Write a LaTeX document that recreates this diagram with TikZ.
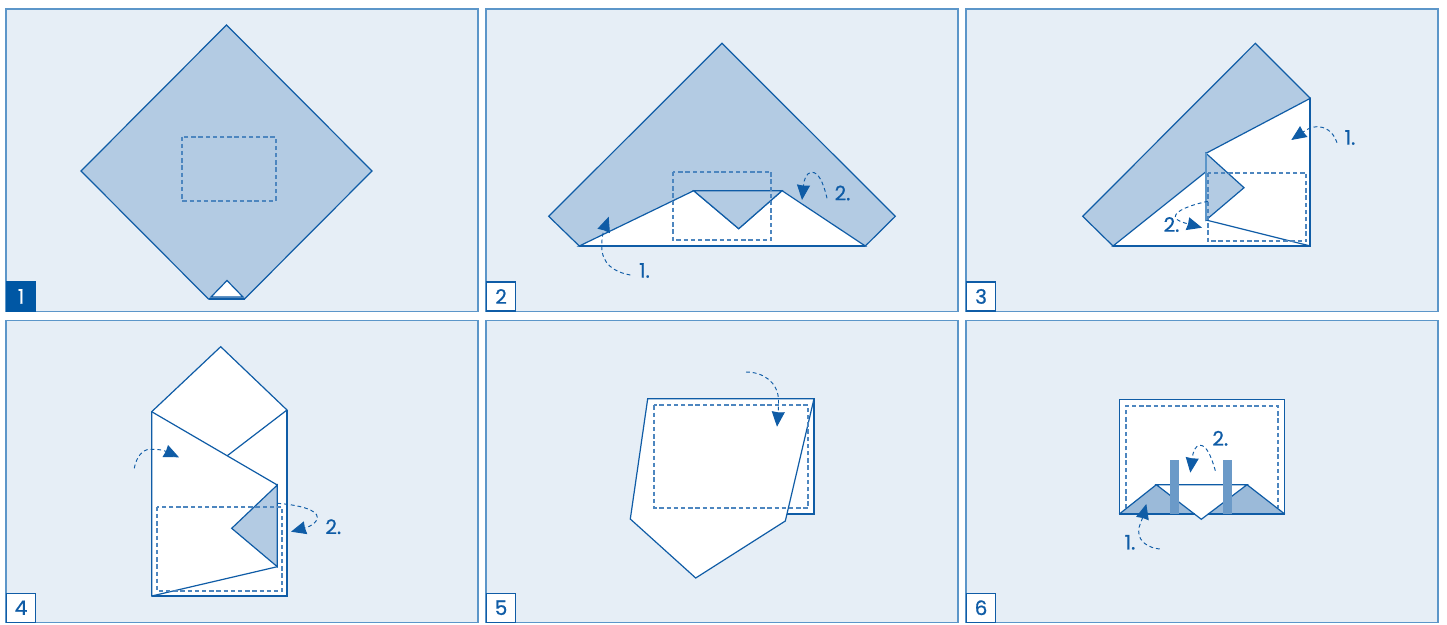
\documentclass[tikz,border=0pt]{standalone}
\usepackage{fontspec}
\setmainfont[FakeBold=0.7]{Poppins}
\usetikzlibrary{arrows.meta}
\definecolor{panelbg}{HTML}{E6EEF6}
\definecolor{ink}{HTML}{0F5CA6}
\definecolor{edge}{HTML}{5C96C9}
\definecolor{shade}{HTML}{B3CBE3}
\definecolor{shadetwo}{HTML}{9BBAD9}
\definecolor{barblue}{HTML}{6B9AC8}
\definecolor{badge}{HTML}{0057A4}
\definecolor{cutcol}{HTML}{4D86BF}
\tikzset{
  panel/.style={fill=panelbg,draw=edge,line width=1.3pt},
  paper/.style={draw=ink,line width=1.2pt,line join=miter},
  shaded/.style={paper,fill=shade},
  blank/.style={paper,fill=white},
  crease/.style={draw=ink,line width=1.2pt},
  heavy/.style={draw=ink,line width=1.8pt},
  cutline/.style={draw=cutcol,line width=2pt,dash pattern=on 4.4pt off 2.8pt},
  foldarrow/.style={draw=ink,line width=.95pt,dash pattern=on 3.8pt off 3pt,
    -{Stealth[length=15pt,width=13pt,inset=.6pt,sep=0pt]}},
  step label/.style={text=ink,font=\fontsize{20}{20}\selectfont,inner sep=0pt},
  badgebox/.style={fill=white,draw=ink,line width=1.1pt,text=ink,
    font=\fontsize{20}{20}\selectfont,inner sep=0pt,minimum width=29pt,minimum height=29pt,anchor=south west},
  badgedark/.style={badgebox,fill=badge,draw=badge,text=white},
}
\begin{document}
\begin{tikzpicture}[x=1pt,y=-1pt]
\useasboundingbox (0,0) rectangle (1447,624);
% panels
\draw[panel] (6,9) rectangle (478,311.5);
\draw[panel] (486,9) rectangle (958,311.5);
\draw[panel] (966,9) rectangle (1438,311.5);
\draw[panel] (6,320.5) rectangle (478,622.8);
\draw[panel] (486,320.5) rectangle (958,622.8);
\draw[panel] (966,320.5) rectangle (1438,622.8);
% --- 1
\draw[shaded] (226.5,25) -- (372,171) -- (244.5,299) -- (208.5,299) -- (81,171) -- cycle;
\draw[blank] (227,280.5) -- (243,297) -- (211,297) -- cycle;
\draw[heavy] (208.5,299) -- (244.5,299);
\draw[cutline] (182,136.5) rectangle (275.5,201);
% --- 2
\draw[shaded] (722,43.3) -- (895.3,216.3) -- (865.3,246) -- (579.3,246) -- (548.7,216.3) -- cycle;
\draw[blank] (579.3,246) -- (693.7,190.7) -- (738.7,228.7) -- (782,190.7) -- (865.3,246) -- cycle;
\draw[shaded] (693.7,190.7) -- (782,190.7) -- (738.7,228.7) -- cycle;
\draw[heavy] (579.3,246) -- (865.3,246);
\draw[cutline] (672.7,171.7) rectangle (771.3,240);
\draw[foldarrow] (630.3,275) .. controls (614,272) and (601.7,264) .. (601.7,246) .. controls (601.7,236) and (604,230) .. (608.7,216.7);
\draw[foldarrow] (827,198.3) .. controls (823,181) and (818,172.3) .. (812,172.3) .. controls (806,172.3) and (804,180) .. (802,200);
\node[step label] (t2a) at (644.5,270.5) {1.};
\node[step label] (t2b) at (842.5,193) {2.};
% --- 3
\draw[shaded] (1255.3,43.3) -- (1310.3,98.3) -- (1310.3,246) -- (1113,246) -- (1082.7,216.3) -- cycle;
\draw[blank] (1310.3,98.3) -- (1206,153.3) -- (1206,171.7) -- (1113,246) -- (1310.3,246) -- cycle;
\draw[shaded] (1206,153.3) -- (1244,187.7) -- (1206,220) -- cycle;
\draw[crease] (1206,220) -- (1310.3,246);
\draw[heavy,draw=edge] (1206,153.3) -- (1206,220);
\draw[heavy] (1310.3,98.3) -- (1310.3,246) -- (1113,246);
\draw[cutline] (1207.7,172.7) rectangle (1306.3,241.3);
\draw[foldarrow] (1337,142.7) .. controls (1333,131) and (1325,126.7) .. (1317,126.7) .. controls (1311,126.7) and (1306,130) .. (1291.3,140);
\draw[foldarrow] (1208,201.3) .. controls (1190,205) and (1175,211) .. (1175.3,216.7) .. controls (1175.5,221) and (1185,223) .. (1202,227.7);
\node[step label] (t3a) at (1350,137.5) {1.};
\node[step label] (t3b) at (1171.5,224.5) {2.};
% --- 4
\draw[blank] (220.7,346.7) -- (287,410) -- (287,596) -- (151.7,596) -- (151.7,411.7) -- cycle;
\draw[crease] (151.7,411.7) -- (277.3,485);
\draw[crease] (227.3,455.7) -- (287,410);
\draw[shaded] (277.3,485) -- (231.7,528.3) -- (277.3,566.7) -- cycle;
\draw[crease] (277.3,566.7) -- (151.7,596);
\draw[heavy] (287,410) -- (287,596) -- (151.7,596);
\draw[cutline] (156.7,506.7) rectangle (282.3,591);
\draw[foldarrow] (134.3,468.3) .. controls (136,458) and (142,449.3) .. (150,449.3) .. controls (156,449.3) and (162,449.5) .. (179,457.3);
\draw[foldarrow] (277.3,503.3) .. controls (300,505) and (317.3,510) .. (317.3,517.3) .. controls (317.3,522) and (312,526) .. (291,531.7);
\node[step label] (t4b) at (333.3,526.7) {2.};
% --- 5
\draw[paper,fill=white!97!panelbg] (785,398.7) -- (814,398.7) -- (814,514) -- (785,514);
\draw[blank] (647.7,398.7) -- (814,398.7) -- (785.3,521) -- (695.7,578) -- (630.3,519) -- cycle;
\draw[cutline] (654.3,405.3) rectangle (808,508.3);
\draw[foldarrow] (746,372) .. controls (763,372) and (778,382) .. (778.5,400) .. controls (778.5,408) and (778,415) .. (777,426.7);
% --- 6
\draw[blank,line width=1.4pt] (1119.3,399.3) rectangle (1284.7,514);
\draw[cutline] (1126,508) -- (1126,406) -- (1278,406) -- (1278,508);
\fill[shadetwo] (1119.3,514) -- (1156.3,484.7) -- (1195,514) -- cycle;
\fill[shadetwo] (1207,514) -- (1247,484.7) -- (1284.7,514) -- cycle;
\draw[blank] (1156.3,484.7) -- (1247,484.7) -- (1201.3,519.3) -- cycle;
\draw[crease] (1119.3,514) -- (1156.3,484.7);
\draw[crease] (1247,484.7) -- (1284.7,514);
\draw[heavy] (1119.3,514) -- (1195,514);
\draw[heavy] (1207.5,514) -- (1284.7,514);
\fill[barblue] (1170,460) rectangle (1179,514.3);
\fill[barblue] (1223,460) rectangle (1232,514.3);
\draw[foldarrow] (1215.3,470.7) .. controls (1211,455) and (1206,445.3) .. (1200.3,445.3) .. controls (1195,445.3) and (1193,452) .. (1190.3,472.7);
\draw[foldarrow] (1159.7,549) .. controls (1149,548) and (1138.7,542) .. (1138.7,531.7) .. controls (1138.7,525) and (1142,520) .. (1146.3,504);
\node[step label] (t6a) at (1130,542.3) {1.};
\node[step label] (t6b) at (1220.3,438.3) {2.};
% badges
\node[badgedark] (b1) at (6,311.5) {1};
\node[badgebox] (b2) at (486,311.5) {2};
\node[badgebox] (b3) at (966,311.5) {3};
\node[badgebox] (b4) at (6,622.8) {4};
\node[badgebox] (b5) at (486,622.8) {5};
\node[badgebox] (b6) at (966,622.8) {6};
\end{tikzpicture}
\end{document}
